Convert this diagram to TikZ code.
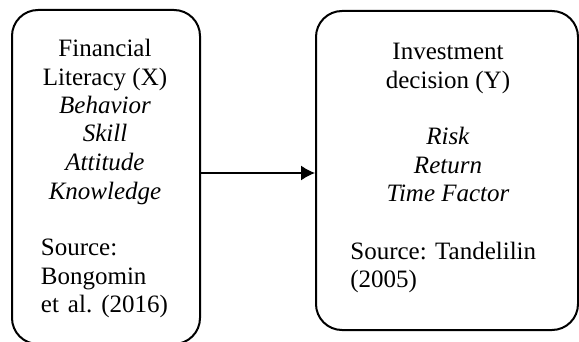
\documentclass[tikz,border=0pt]{standalone}
\usepackage{fontspec}
\setmainfont{Liberation Serif}
\usetikzlibrary{arrows.meta}
\begin{document}
\begin{tikzpicture}[x=0.5pt,y=-0.5pt,
  box/.style={draw=black,line width=1pt,rounded corners=13pt,rectangle,inner sep=0pt},
  txt/.style={inner sep=0pt,font=\fontsize{12.5}{14.25}\selectfont},
  link/.style={draw=black,line width=0.65pt,-{Latex[length=7pt,width=7.5pt]}}]
\fill[white] (0,0) rectangle (579,342);
\clip (0,0) rectangle (579,342);
\node[box,minimum width=94pt,minimum height=167pt] (L) at (106,177) {};
\node[box,minimum width=131pt,minimum height=159.5pt] (R) at (447,170.5) {};
\node[txt,align=center,anchor=base] (Lt) at (105,199)
  {Financial\\Literacy (X)\\\textit{Behavior}\\\textit{Skill}\\\textit{Attitude}\\\textit{Knowledge}};
\node[txt,align=left,anchor=base west] (Ls) at (40.5,313)
  {Source:\\Bongomin\\\makebox[63.5pt][s]{et al.\ (2016)}};
\node[txt,align=center,anchor=base] (Rt) at (448,202)
  {Investment\\decision (Y)\\[14.25pt]\textit{Risk}\\\textit{Return}\\\textit{Time Factor}};
\node[txt,align=left,anchor=base west] (Rs) at (350,287.5)
  {Source: Tandelilin\\(2005)};
\coordinate (mid) at (258,173);
\draw[link] (L.east |- mid) -- (R.west |- mid);
\end{tikzpicture}
\end{document}
